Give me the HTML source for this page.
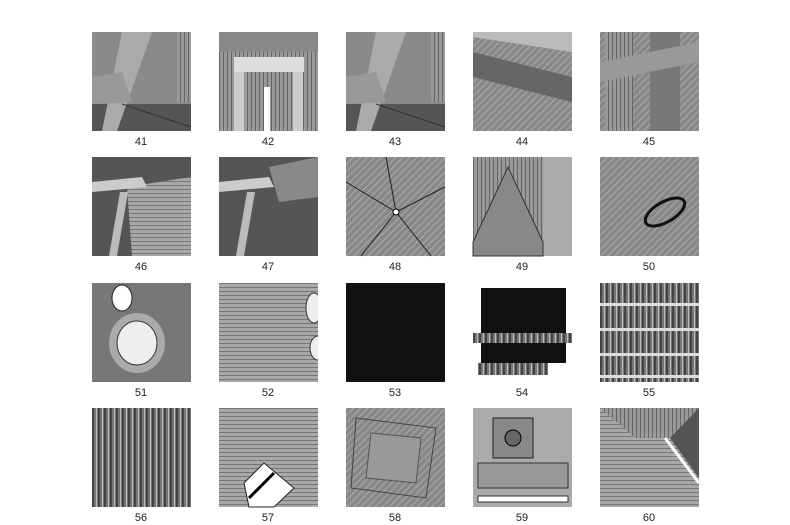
<!DOCTYPE html>
<html><head><style>
body{margin:0;background:#fff;width:790px;height:525px;overflow:hidden}
svg{display:block}
text{font-family:"Liberation Sans",sans-serif;font-size:11px;fill:#222}
</style></head><body>
<svg width="790" height="525" xmlns="http://www.w3.org/2000/svg">
<defs>
<pattern id="vs" width="4" height="4" patternUnits="userSpaceOnUse"><rect width="4" height="4" fill="#999"/><rect width="1" height="4" fill="#666"/></pattern>
<pattern id="hs" width="4" height="4" patternUnits="userSpaceOnUse"><rect width="4" height="4" fill="#a8a8a8"/><rect width="4" height="1" fill="#777"/></pattern>
<pattern id="ds" width="5" height="5" patternUnits="userSpaceOnUse" patternTransform="rotate(45)"><rect width="5" height="5" fill="#888"/><rect width="1" height="5" fill="#aaa"/></pattern>
<pattern id="vb" width="6" height="6" patternUnits="userSpaceOnUse"><rect width="6" height="6" fill="#777"/><rect width="2" height="6" fill="#444"/><rect x="4" width="1" height="6" fill="#bbb"/></pattern>
</defs>
<!-- row 1 -->
<g transform="translate(92,32)"><rect width="99" height="99" fill="#8a8a8a"/><rect y="72" width="99" height="27" fill="#555"/><polygon points="30,0 60,0 25,99 10,99" fill="#aaa"/><polygon points="0,45 30,40 40,70 0,72" fill="#999"/><rect x="85" width="14" height="70" fill="url(#vs)"/><line x1="30" y1="72" x2="99" y2="95" stroke="#333"/></g>
<g transform="translate(219,32)"><rect width="99" height="99" fill="url(#vs)"/><rect x="15" y="25" width="70" height="15" fill="#ddd"/><rect x="15" y="40" width="10" height="59" fill="#ccc"/><rect x="74" y="40" width="10" height="59" fill="#ccc"/><rect x="45" y="55" width="6" height="44" fill="#fff"/><rect width="99" height="20" fill="#888"/></g>
<g transform="translate(346,32)"><rect width="99" height="99" fill="#8a8a8a"/><rect y="72" width="99" height="27" fill="#555"/><polygon points="30,0 60,0 25,99 10,99" fill="#aaa"/><polygon points="0,45 30,40 40,70 0,72" fill="#999"/><rect x="85" width="14" height="70" fill="url(#vs)"/><line x1="30" y1="72" x2="99" y2="95" stroke="#333"/></g>
<g transform="translate(473,32)"><rect width="99" height="99" fill="url(#ds)"/><polygon points="0,20 99,45 99,70 0,45" fill="#666"/><polygon points="0,0 99,0 99,20 0,5" fill="#bbb"/></g>
<g transform="translate(600,32)"><rect width="99" height="99" fill="url(#ds)"/><rect x="5" width="28" height="99" fill="url(#vs)"/><rect x="50" width="30" height="99" fill="#777"/><polygon points="0,30 99,10 99,30 0,50" fill="#999"/></g>
<!-- row 2 -->
<g transform="translate(92,157)"><rect width="99" height="99" fill="#555"/><polygon points="35,30 99,20 99,99 40,99" fill="url(#hs)"/><polygon points="0,25 50,20 55,30 0,35" fill="#ccc"/><polygon points="28,35 36,35 25,99 17,99" fill="#bbb"/></g>
<g transform="translate(219,157)"><rect width="99" height="99" fill="#555"/><polygon points="0,25 50,20 55,30 0,35" fill="#ccc"/><polygon points="28,35 36,35 25,99 17,99" fill="#bbb"/><polygon points="50,10 99,0 99,40 60,45" fill="#888"/></g>
<g transform="translate(346,157)"><rect width="99" height="99" fill="url(#ds)"/><g stroke="#222" fill="none"><line x1="50" y1="55" x2="40" y2="0"/><line x1="50" y1="55" x2="99" y2="30"/><line x1="50" y1="55" x2="85" y2="99"/><line x1="50" y1="55" x2="15" y2="99"/><line x1="50" y1="55" x2="0" y2="25"/></g><circle cx="50" cy="55" r="3" fill="#fff" stroke="#000"/></g>
<g transform="translate(473,157)"><rect width="99" height="99" fill="url(#vs)"/><rect x="70" width="29" height="99" fill="#aaa"/><polygon points="35,10 70,85 70,99 0,99 0,85" fill="#888" stroke="#333"/></g>
<g transform="translate(600,157)"><rect width="99" height="99" fill="url(#ds)"/><ellipse cx="65" cy="55" rx="22" ry="10" transform="rotate(-30 65 55)" fill="none" stroke="#111" stroke-width="3"/></g>
<!-- row 3 -->
<g transform="translate(92,283)"><rect width="99" height="99" fill="#777"/><ellipse cx="30" cy="15" rx="10" ry="13" fill="#fff" stroke="#222"/><ellipse cx="45" cy="60" rx="28" ry="30" fill="#aaa"/><ellipse cx="45" cy="60" rx="20" ry="22" fill="#eee" stroke="#333"/></g>
<svg x="219" y="283" width="99" height="99"><rect width="99" height="99" fill="url(#hs)"/><ellipse cx="95" cy="25" rx="8" ry="15" fill="#eee" stroke="#333"/><ellipse cx="99" cy="65" rx="8" ry="12" fill="#eee" stroke="#333"/></svg>
<g transform="translate(346,283)"><rect width="99" height="99" fill="#111"/></g>
<g transform="translate(473,283)"><rect width="99" height="99" fill="#fff"/><rect x="8" y="5" width="85" height="75" fill="#111"/><rect x="0" y="50" width="99" height="10" fill="url(#vb)"/><rect x="5" y="80" width="70" height="12" fill="url(#vb)"/></g>
<g transform="translate(600,283)"><rect width="99" height="99" fill="url(#vb)"/><rect y="20" width="99" height="3" fill="#ddd"/><rect y="45" width="99" height="3" fill="#ddd"/><rect y="70" width="99" height="3" fill="#ddd"/><rect y="92" width="99" height="3" fill="#ddd"/></g>
<!-- row 4 -->
<g transform="translate(92,408)"><rect width="99" height="99" fill="url(#vb)"/></g>
<g transform="translate(219,408)"><rect width="99" height="99" fill="url(#hs)"/><polygon points="25,75 45,55 75,80 55,99 30,99" fill="#fff" stroke="#222"/><line x1="30" y1="90" x2="55" y2="65" stroke="#000" stroke-width="3"/></g>
<g transform="translate(346,408)"><rect width="99" height="99" fill="url(#ds)"/><polygon points="10,10 90,20 80,90 5,80" fill="none" stroke="#444"/><polygon points="25,25 75,30 70,75 20,70" fill="#999" stroke="#555"/></g>
<g transform="translate(473,408)"><rect width="99" height="99" fill="#aaa"/><rect x="20" y="10" width="40" height="40" fill="#888" stroke="#222"/><circle cx="40" cy="30" r="8" fill="#666" stroke="#000"/><rect x="5" y="55" width="90" height="25" fill="#999" stroke="#333"/><rect x="5" y="88" width="90" height="6" fill="#fff" stroke="#333"/></g>
<g transform="translate(600,408)"><rect width="99" height="99" fill="url(#hs)"/><polygon points="0,0 99,0 70,30 35,30" fill="url(#vs)"/><polygon points="70,30 99,0 99,70" fill="#555"/><line x1="65" y1="30" x2="99" y2="75" stroke="#fff" stroke-width="3"/></g>
<g text-anchor="middle">
<text x="141" y="145">41</text><text x="268" y="145">42</text><text x="395" y="145">43</text><text x="522" y="145">44</text><text x="649" y="145">45</text>
<text x="141" y="270">46</text><text x="268" y="270">47</text><text x="395" y="270">48</text><text x="522" y="270">49</text><text x="649" y="270">50</text>
<text x="141" y="396">51</text><text x="268" y="396">52</text><text x="395" y="396">53</text><text x="522" y="396">54</text><text x="649" y="396">55</text>
<text x="141" y="521">56</text><text x="268" y="521">57</text><text x="395" y="521">58</text><text x="522" y="521">59</text><text x="649" y="521">60</text>
</g>
</svg>
</body></html>
